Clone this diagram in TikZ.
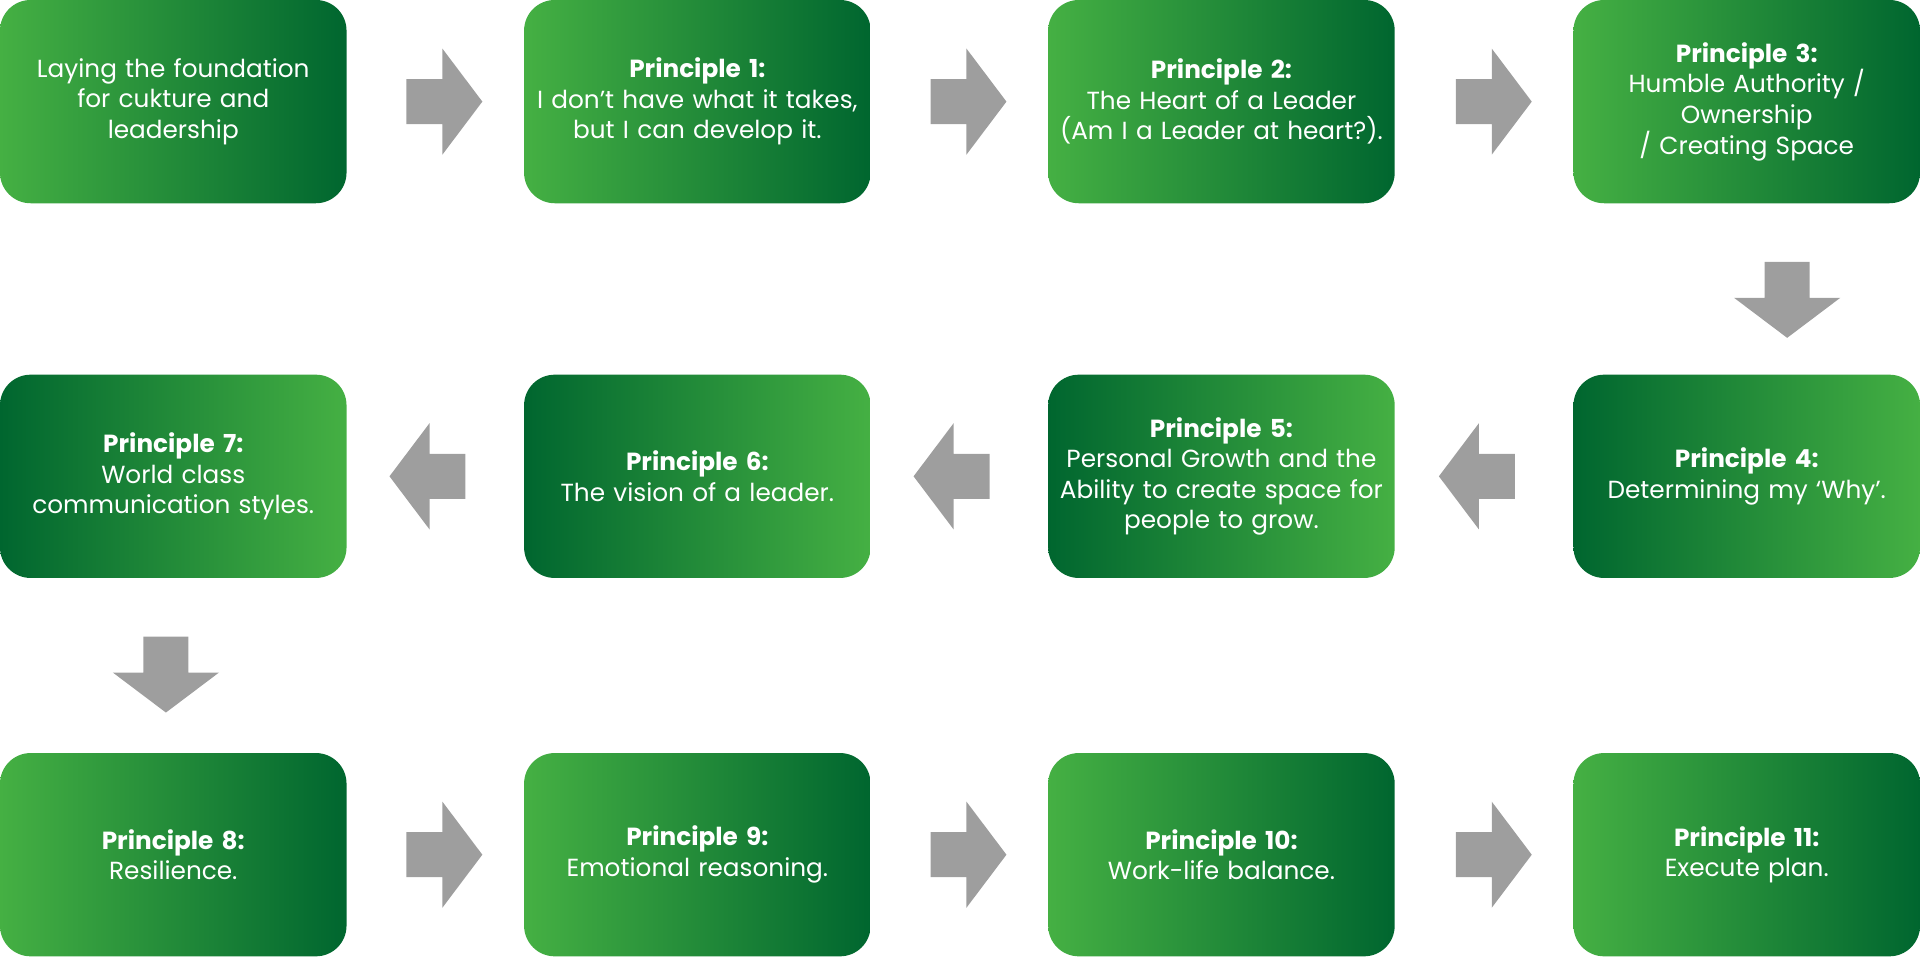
\documentclass[tikz,border=0pt]{standalone}
\usepackage{fontspec}
\setmainfont{Poppins}
\usetikzlibrary{shapes.arrows}
\definecolor{leaflight}{HTML}{45B043}
\definecolor{leafdark}{HTML}{00662F}
\definecolor{arrowgray}{HTML}{9E9E9E}
\tikzset{
  stage/.style={rounded corners=0.5cm, minimum width=5.66cm, minimum height=3.32cm,
    text width=5.4cm, align=center, text=white, inner sep=0pt,
    font=\fontsize{11.5}{14.2}\selectfont},
  lr/.style={stage, left color=leaflight, middle color=leaflight, right color=leafdark},
  rl/.style={stage, left color=leafdark, middle color=leaflight, right color=leaflight},
  flow/.style={single arrow, fill=arrowgray, draw=none, inner sep=0.36cm,
    minimum height=1.24cm, single arrow head extend=0.5cm, single arrow tip angle=106},
}
\begin{document}
\begin{tikzpicture}
  \useasboundingbox (0,0) rectangle (31.36,15.62);

  % first row
  \node[lr] (start) at (2.83,13.96) {Laying the foundation\\for cukture and\\leadership};
  \node[lr] (p1) at (11.39,13.96) {\textbf{Principle 1:}\\I don’t have what it takes,\\but I can develop it.};
  \node[lr] (p2) at (19.95,13.96) {\textbf{Principle 2:}\\The Heart of a Leader\\(Am I a Leader at heart?).};
  \node[lr] (p3) at (28.53,13.96) {\textbf{Principle 3:}\\Humble Authority /\\Ownership\\/ Creating Space};

  % second row
  \node[rl] (p4) at (28.53,7.84) {\textbf{Principle 4:}\\Determining my ‘Why’.};
  \node[rl] (p5) at (19.95,7.84) {\textbf{Principle 5:}\\Personal Growth and the\\Ability to create space for\\people to grow.};
  \node[rl] (p6) at (11.39,7.84) {\textbf{Principle 6:}\\The vision of a leader.};
  \node[rl] (p7) at (2.83,7.84) {\textbf{Principle 7:}\\World class\\communication styles.};

  % third row
  \node[lr] (p8) at (2.83,1.66) {\textbf{Principle 8:}\\Resilience.};
  \node[lr] (p9) at (11.39,1.66) {\textbf{Principle 9:}\\Emotional reasoning.};
  \node[lr] (p10) at (19.95,1.66) {\textbf{Principle 10:}\\Work-life balance.};
  \node[lr] (p11) at (28.53,1.66) {\textbf{Principle 11:}\\Execute plan.};

  % arrows
  \node[flow] (a1) at (7.12,13.96) {};
  \node[flow] (a2) at (15.68,13.96) {};
  \node[flow] (a3) at (24.26,13.96) {};
  \node[flow, shape border rotate=270] (a4) at (29.19,10.86) {};
  \node[flow, shape border rotate=180] (a5) at (24.26,7.84) {};
  \node[flow, shape border rotate=180] (a6) at (15.68,7.84) {};
  \node[flow, shape border rotate=180] (a7) at (7.12,7.84) {};
  \node[flow, shape border rotate=270] (a8) at (2.71,4.74) {};
  \node[flow] (a9) at (7.12,1.66) {};
  \node[flow] (a10) at (15.68,1.66) {};
  \node[flow] (a11) at (24.26,1.66) {};
\end{tikzpicture}
\end{document}
